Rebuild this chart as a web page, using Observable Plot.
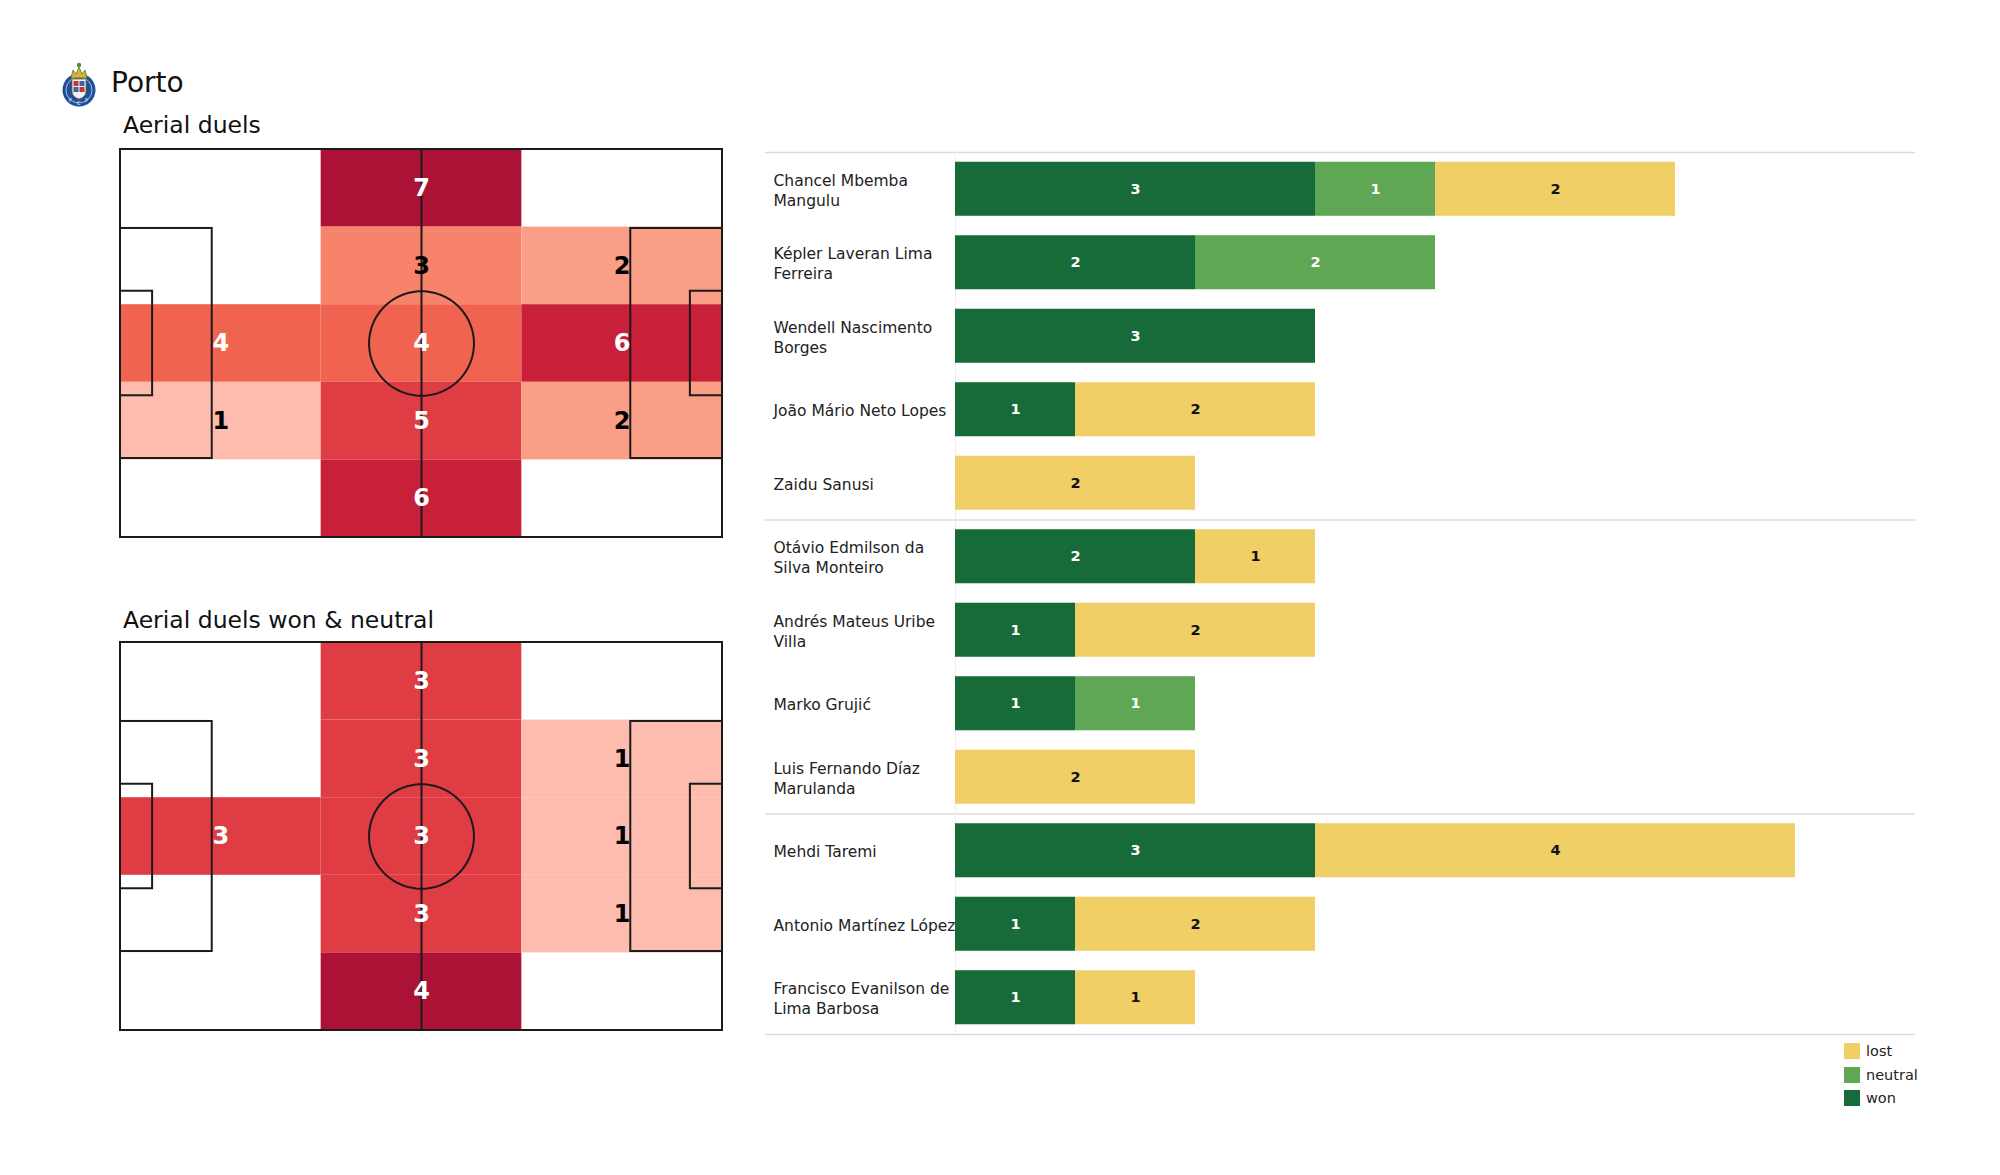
<!DOCTYPE html>
<html><head><meta charset="utf-8">
<script src="https://cdn.jsdelivr.net/npm/d3@7"></script>
<script src="https://cdn.jsdelivr.net/npm/@observablehq/plot@0.6"></script>
<style>
body{margin:0;background:#fff;font-family:"DejaVu Sans",sans-serif;}
#root{position:relative;width:2000px;height:1175px;overflow:hidden;background:#fff}
.abs{position:absolute;white-space:nowrap;color:#111}
</style></head><body><div id="root"></div>
<script>
// ---------- data ----------
const teamName = "Porto";
const pitchTitles = ["Aerial duels", "Aerial duels won & neutral"];
// pitch heat grids: 5 rows (top to bottom) x 3 columns (left to right)
const duelsAll = [
  [0, 7, 0],
  [0, 3, 2],
  [4, 4, 6],
  [1, 5, 2],
  [0, 6, 0]
];
const duelsWonNeutral = [
  [0, 3, 0],
  [0, 3, 1],
  [3, 3, 1],
  [0, 3, 1],
  [0, 4, 0]
];
const players = [
  "Chancel Mbemba Mangulu", "Képler Laveran Lima Ferreira", "Wendell Nascimento Borges",
  "João Mário Neto Lopes", "Zaidu Sanusi", "Otávio Edmilson da Silva Monteiro",
  "Andrés Mateus Uribe Villa", "Marko Grujić", "Luis Fernando Díaz Marulanda",
  "Mehdi Taremi", "Antonio Martínez López", "Francisco Evanilson de Lima Barbosa"
];
const playerLabels = [
  "Chancel Mbemba\nMangulu", "Képler Laveran Lima\nFerreira", "Wendell Nascimento\nBorges",
  "João Mário Neto Lopes", "Zaidu Sanusi", "Otávio Edmilson da\nSilva Monteiro",
  "Andrés Mateus Uribe\nVilla", "Marko Grujić", "Luis Fernando Díaz\nMarulanda",
  "Mehdi Taremi", "Antonio Martínez López", "Francisco Evanilson de\nLima Barbosa"
];
const won     = [3, 2, 3, 1, 0, 2, 1, 1, 0, 3, 1, 1];
const neutral = [1, 2, 0, 0, 0, 0, 0, 1, 0, 0, 0, 0];
const lost    = [2, 0, 0, 2, 2, 1, 2, 0, 2, 4, 2, 1];
const outcomes = ["won", "neutral", "lost"];
const outcomeColors = ["#176b38", "#5fa655", "#f0cf66"];
const legendOrder = ["lost", "neutral", "won"];
const groupStarts = [0, 5, 9]; // first player of each positional group
const heatStops = [0, 1/6, 2/6, 3/6, 4/6, 5/6, 1];
const heatColors = ["#fdbcad", "#fa9e87", "#f7836a", "#f06350", "#e03c44", "#c9203a", "#ac1236"];
// pitch geometry (metres)
const pitchLength = 105, pitchWidth = 68;
const penaltyDepth = 16, penaltyHalfWidth = 20.16, goalDepth = 5.6, goalHalfWidth = 9.16, circleRadius = 9.15;

// ---------- layout helpers ----------
const root = document.getElementById("root");
function addDiv(html, left, top, style) {
  const d = document.createElement("div");
  d.className = "abs";
  d.innerHTML = html;
  d.style.left = left + "px"; d.style.top = top + "px";
  Object.assign(d.style, style || {});
  root.appendChild(d);
  return d;
}
function place(node, left, top) {
  node.style.position = "absolute";
  node.style.left = left + "px"; node.style.top = top + "px";
  root.appendChild(node);
}

// ---------- logo ----------
addDiv(`<svg width="36" height="48" viewBox="0 0 36 48">
  <circle cx="18" cy="30" r="16.5" fill="#1d4f9a"/>
  <circle cx="18" cy="30" r="13" fill="none" stroke="#c9d6ea" stroke-width="0.8"/>
  <path d="M11 19 h14 v12 q0 6 -7 8 q-7 -2 -7 -8z" fill="#f2f2f2" stroke="#7a6a2a" stroke-width="0.8"/>
  <rect x="12.5" y="21" width="5" height="5" fill="#c9303a"/><rect x="18.5" y="21" width="5" height="5" fill="#3b64b0"/>
  <rect x="12.5" y="27" width="5" height="5" fill="#3b64b0"/><rect x="18.5" y="27" width="5" height="5" fill="#c9303a"/>
  <path d="M10 18 l2 -8 l3 4 l3 -7 l3 7 l3 -4 l2 8z" fill="#d9b23a" stroke="#5a7a2a" stroke-width="0.8"/>
  <circle cx="18" cy="5" r="2.2" fill="#5a8a3a"/>
  <text x="8" y="42" font-size="5" fill="#fff" font-family="DejaVu Sans">F</text>
  <text x="16" y="45" font-size="5" fill="#fff" font-family="DejaVu Sans">C</text>
  <text x="24" y="42" font-size="5" fill="#fff" font-family="DejaVu Sans">P</text>
</svg>`, 61, 60);

addDiv(teamName, 111, 69, {fontSize: "28px", lineHeight: "28px"});
addDiv(pitchTitles[0], 123, 114, {fontSize: "23.5px", lineHeight: "23.5px"});
addDiv(pitchTitles[1], 123, 609, {fontSize: "23.5px", lineHeight: "23.5px"});

// ---------- pitches ----------
const cy = pitchWidth / 2;
const pitchBoxes = [
  {x1: 0, x2: pitchLength, y1: 0, y2: pitchWidth},
  {x1: 0, x2: penaltyDepth, y1: cy - penaltyHalfWidth, y2: cy + penaltyHalfWidth},
  {x1: pitchLength - penaltyDepth, x2: pitchLength, y1: cy - penaltyHalfWidth, y2: cy + penaltyHalfWidth},
  {x1: 0, x2: goalDepth, y1: cy - goalHalfWidth, y2: cy + goalHalfWidth},
  {x1: pitchLength - goalDepth, x2: pitchLength, y1: cy - goalHalfWidth, y2: cy + goalHalfWidth}
];
const centreCircle = d3.range(0, 361, 3).map(a => ({
  x: pitchLength / 2 + circleRadius * Math.cos(a * Math.PI / 180),
  y: cy + circleRadius * Math.sin(a * Math.PI / 180)
}));

function pitchPlot(grid) {
  const rows = grid.length, cols = grid[0].length;
  const max = d3.max(grid.flat());
  const cells = [];
  grid.forEach((row, r) => row.forEach((v, c) => {
    if (v > 0) cells.push({r, c, v, t: max > 1 ? (v - 1) / (max - 1) : 1});
  }));
  const cw = pitchLength / cols, rh = pitchWidth / rows;
  const lineStyle = {stroke: "#1a1a1a", strokeWidth: 2};
  const textOpts = {
    x: d => (d.c + 0.5) * cw, y: d => (d.r + 0.5) * rh, text: d => String(d.v),
    fontSize: 24, fontWeight: "bold"
  };
  return Plot.plot({
    width: 622, height: 408, margin: 10,
    style: {fontFamily: "DejaVu Sans", background: "transparent", overflow: "visible"},
    x: {domain: [0, pitchLength], axis: null},
    y: {domain: [0, pitchWidth], axis: null, reverse: true},
    color: {type: "linear", domain: heatStops, range: heatColors},
    marks: [
      Plot.rect(cells, {x1: d => d.c * cw, x2: d => (d.c + 1) * cw, y1: d => d.r * rh, y2: d => (d.r + 1) * rh, fill: "t"}),
      Plot.rect(pitchBoxes, {x1: "x1", x2: "x2", y1: "y1", y2: "y2", fill: "none", ...lineStyle}),
      Plot.ruleX([pitchLength / 2], {y1: 0, y2: pitchWidth, ...lineStyle}),
      Plot.line(centreCircle, {x: "x", y: "y", ...lineStyle}),
      Plot.text(cells.filter(d => d.t >= 0.5), {...textOpts, fill: "white"}),
      Plot.text(cells.filter(d => d.t < 0.5), {...textOpts, fill: "black"})
    ]
  });
}
place(pitchPlot(duelsAll), 110, 139);
place(pitchPlot(duelsWonNeutral), 110, 632);

// ---------- stacked bars ----------
const barData = [];
players.forEach((p, i) => {
  [won[i], neutral[i], lost[i]].forEach((v, k) => {
    if (v > 0) barData.push({player: p, outcome: outcomes[k], value: v});
  });
});
const rowsData = players.map((p, i) => ({player: p, label: playerLabels[i]}));
const step = 882 / players.length;
const sepTop = groupStarts.map(i => ({player: players[i]}));
const sepBottom = [{player: players[players.length - 1]}];

const bars = Plot.plot({
  width: 1155, height: 886,
  marginLeft: 192, marginRight: 3, marginTop: 2, marginBottom: 2,
  style: {fontFamily: "DejaVu Sans", background: "transparent", overflow: "visible"},
  x: {domain: [0, 8], axis: null},
  y: {domain: players, axis: null, paddingInner: 0.265, paddingOuter: 0.1325, round: false},
  color: {domain: outcomes, range: outcomeColors},
  marks: [
    Plot.ruleY(sepTop, {y: "player", dy: -step / 2, stroke: "#dcdcdc", strokeWidth: 1.5, insetLeft: -190}),
    Plot.ruleY(sepBottom, {y: "player", dy: step / 2, stroke: "#dcdcdc", strokeWidth: 1.5, insetLeft: -190}),
    Plot.ruleX([0], {stroke: "#eeeeee", strokeWidth: 1}),
    Plot.barX(barData, Plot.stackX({x: "value", y: "player", fill: "outcome", z: "outcome", order: outcomes})),
    Plot.text(barData, Plot.stackX({
      x: "value", y: "player", z: "outcome", order: outcomes,
      text: d => String(d.value),
      fill: d => d.outcome === "lost" ? "#111111" : "#ffffff",
      fontSize: 14.5, fontWeight: "bold"
    })),
    Plot.text(rowsData, {
      y: "player", text: "label", frameAnchor: "left", textAnchor: "start", dx: -182,
      fontSize: 15.5, lineHeight: 1.3, fill: "#222222"
    })
  ]
});
place(bars, 763, 150);

// ---------- legend ----------
legendOrder.forEach((o, i) => {
  const col = outcomeColors[outcomes.indexOf(o)];
  addDiv(`<span style="display:inline-block;width:16px;height:16px;background:${col};vertical-align:top"></span>` +
         `<span style="display:inline-block;margin-left:6px;font-size:14.5px;line-height:16px;vertical-align:top;color:#222">${o}</span>`,
         1844, 1043 + i * 23.5);
});
</script></body></html>
